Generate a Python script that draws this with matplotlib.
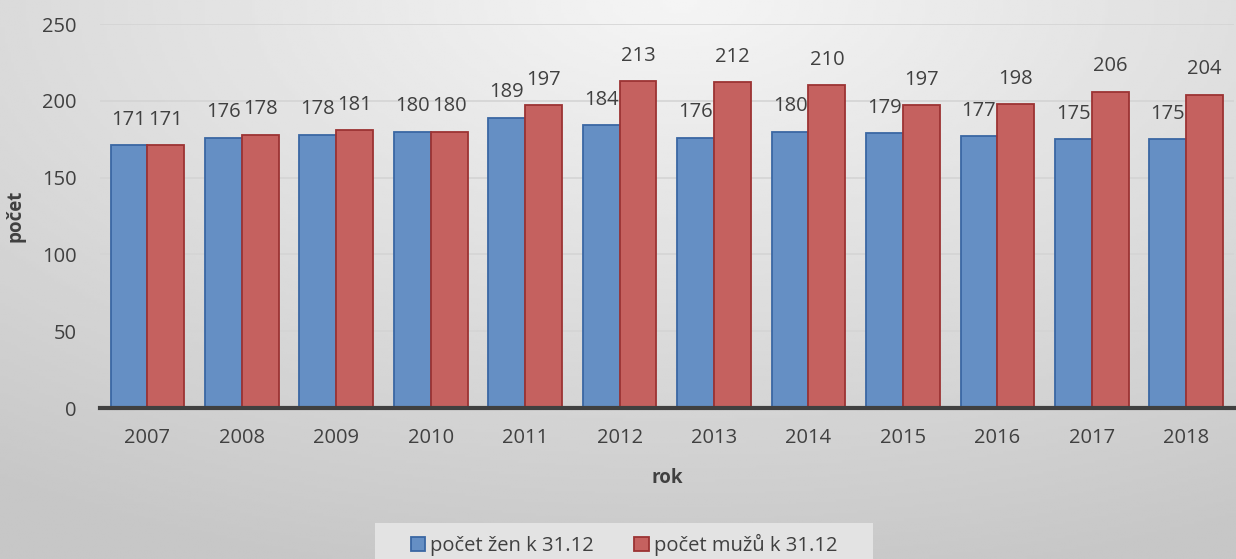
import numpy as np
import matplotlib.pyplot as plt
from matplotlib.patches import Rectangle

# data
roky = ['2007', '2008', '2009', '2010', '2011', '2012', '2013', '2014', '2015', '2016', '2017', '2018']
zeny = [171, 176, 178, 180, 189, 184, 176, 180, 179, 177, 175, 175]
muzi = [171, 178, 181, 180, 197, 213, 212, 210, 197, 198, 206, 204]
y_ticks = [0, 50, 100, 150, 200, 250]

plt.rcParams['font.family'] = ['Open Sans', 'DejaVu Sans']
txt_col = '#404040'
fs = 14.5

fig = plt.figure(figsize=(12.36, 5.59), dpi=100)

# gray gradient background like the excel style
bg = fig.add_axes([0, 0, 1, 1], zorder=-10)
gx, gy = np.meshgrid(np.linspace(0, 1, 400), np.linspace(0, 1, 200))
dist = np.sqrt(((gx - 0.55) * 1.0) ** 2 + ((gy - 0.0) * 0.9) ** 2)
dist = np.clip(dist / 0.95, 0, 1)
val = 0.96 - 0.18 * dist
bg.imshow(val, cmap='gray', vmin=0, vmax=1, aspect='auto', extent=[0, 1, 1, 0])
# lighter box behind legend (transAxes: y=0 is the bottom)
bg.add_patch(Rectangle((375 / 1236, 0), 498 / 1236, 36 / 559,
                       facecolor='#e3e3e3', edgecolor='none', transform=bg.transAxes))
bg.set_axis_off()

ax = fig.add_axes([0.081, 0.270, 0.917, 0.687])
ax.patch.set_alpha(0)

x = np.arange(len(roky))
w = 0.39
b1 = ax.bar(x - w / 2, zeny, w, color='#658fc4', edgecolor='#3a67a3', linewidth=1.3,
            label='počet žen k 31.12', zorder=3)
b2 = ax.bar(x + w / 2, muzi, w, color='#c5615f', edgecolor='#9c3333', linewidth=1.3,
            label='počet mužů k 31.12', zorder=3)

for rect, v in zip(list(b1) + list(b2), zeny + muzi):
    ax.annotate(str(v), (rect.get_x() + rect.get_width() / 2, v), xytext=(0, 11),
                textcoords='offset points', ha='center', va='bottom',
                fontsize=fs, color=txt_col)

ax.set_xlim(-0.5, len(roky) - 0.5)
ax.set_ylim(0, 250)
ax.set_yticks(y_ticks)
ax.set_xticks(x)
ax.set_xticklabels(roky)
ax.tick_params(axis='both', length=0, labelsize=fs, labelcolor=txt_col)
ax.tick_params(axis='x', pad=14)
ax.tick_params(axis='y', pad=17)
ax.grid(axis='y', color='#d4d4d4', linewidth=1.2, zorder=0)
for s in ['top', 'right', 'left']:
    ax.spines[s].set_visible(False)
ax.spines['bottom'].set_color('#404040')
ax.spines['bottom'].set_linewidth(3)
ax.spines['bottom'].set_zorder(4)

ax.set_xlabel('rok', fontsize=13.5, fontweight='bold', color=txt_col, labelpad=15)
ax.set_ylabel('počet', fontsize=13.5, fontweight='bold', color=txt_col)
ax.yaxis.set_label_coords(-0.066, 0.5)

leg = fig.legend(handles=[b1, b2], loc='center', bbox_to_anchor=(0.505, 0.025), ncol=2,
                 fontsize=fs, frameon=False, handlelength=0.7,
                 handleheight=0.7, handletextpad=0.25, columnspacing=2.0)
for t in leg.get_texts():
    t.set_color(txt_col)

plt.savefig('out.png', dpi=100)
